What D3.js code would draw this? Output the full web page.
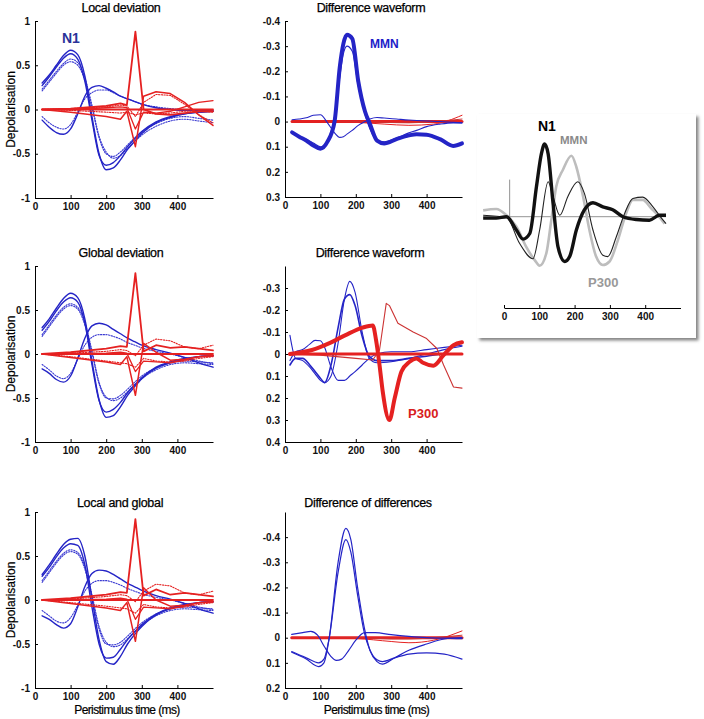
<!DOCTYPE html>
<html><head><meta charset="utf-8">
<script src="https://cdn.jsdelivr.net/npm/d3@7"></script>
<style>
body{margin:0;background:#fff}
text{font-family:Arial,"Liberation Sans",sans-serif}
</style>
</head><body>
<svg id="c" width="704" height="719"></svg>
<script>
// ---------------- DATA ----------------
const xTicks = [0, 100, 200, 300, 400];
const depolTicks = [1, 0.5, 0, -0.5, -1];
const diff1Ticks = [-0.4, -0.3, -0.2, -0.1, 0, 0.1, 0.2, 0.3];
const diff2Ticks = [-0.3, -0.2, -0.1, 0, 0.1, 0.2, 0.3, 0.4];
const diff3Ticks = [-0.4, -0.3, -0.2, -0.1, 0, 0.1, 0.2];
const titles = ["Local deviation", "Difference waveform", "Global deviation", "Difference waveform", "Local and global", "Difference of differences"];

// shared time grids (ms)
const tBlue = [20,40,60,80,100,120,140,160,180,200,220,240,260,280,300,340,380,420,460,500];
const tRed  = [20,100,200,240,258,282,305,340,380,420,460,500];

// Local deviation
const loc_b1 = [0.30,0.39,0.50,0.61,0.67,0.62,0.38,-0.08,-0.50,-0.68,-0.66,-0.57,-0.45,-0.36,-0.27,-0.15,-0.09,-0.05,-0.03,-0.02];
const loc_b2 = [0.27,0.37,0.48,0.58,0.63,0.57,0.32,-0.12,-0.52,-0.63,-0.60,-0.52,-0.42,-0.33,-0.25,-0.14,-0.08,-0.05,-0.03,-0.02];
const loc_b3 = [0.23,0.33,0.43,0.52,0.57,0.53,0.36,0.05,-0.30,-0.48,-0.55,-0.52,-0.44,-0.36,-0.29,-0.19,-0.13,-0.11,-0.13,-0.15];
const loc_b4 = [0.21,0.31,0.41,0.50,0.54,0.50,0.33,0.02,-0.32,-0.50,-0.53,-0.48,-0.40,-0.32,-0.25,-0.16,-0.10,-0.08,-0.10,-0.12];
const loc_b5 = [-0.12,-0.20,-0.26,-0.28,-0.22,-0.05,0.15,0.25,0.27,0.24,0.20,0.15,0.12,0.09,0.06,0.02,0.00,-0.01,-0.01,-0.02];
const loc_b6 = [-0.08,-0.15,-0.20,-0.22,-0.17,-0.03,0.12,0.19,0.22,0.22,0.19,0.15,0.12,0.09,0.06,0.03,0.01,0.00,-0.01,-0.01];
const loc_r0 = [0,0,0,0,0,0,0,0,0,0,0,0];
const loc_r1 = [0,0.01,0.04,0.07,0.05,0.88,0.00,-0.05,-0.06,-0.04,-0.02,-0.02];
const loc_r2 = [0,-0.03,-0.08,-0.11,-0.02,-0.42,0.15,0.20,0.18,0.08,-0.06,-0.18];
const loc_r3 = [0,0.00,0.02,0.03,0.02,-0.22,-0.03,-0.04,-0.02,0.03,0.08,0.10];
const loc_r4 = [0,0.01,0.03,0.05,0.04,-0.08,0.08,0.17,0.16,0.06,-0.06,-0.15];
const loc_r5 = [0,-0.01,-0.03,-0.04,-0.03,-0.06,-0.04,-0.05,-0.04,-0.02,-0.02,-0.03];

// Global deviation
const glb_b1 = [0.30,0.40,0.52,0.63,0.69,0.64,0.40,-0.08,-0.52,-0.72,-0.70,-0.60,-0.47,-0.37,-0.28,-0.16,-0.10,-0.06,-0.03,-0.02];
const glb_b2 = [0.27,0.37,0.49,0.59,0.64,0.59,0.35,-0.12,-0.53,-0.66,-0.63,-0.55,-0.44,-0.35,-0.27,-0.15,-0.09,-0.05,-0.03,-0.02];
const glb_b3 = [0.22,0.33,0.44,0.53,0.57,0.53,0.36,0.04,-0.32,-0.49,-0.53,-0.50,-0.43,-0.35,-0.28,-0.18,-0.12,-0.10,-0.11,-0.12];
const glb_b4 = [0.20,0.31,0.42,0.51,0.55,0.51,0.33,0.01,-0.34,-0.50,-0.51,-0.47,-0.40,-0.32,-0.25,-0.16,-0.10,-0.08,-0.09,-0.10];
const glb_b5 = [-0.17,-0.22,-0.29,-0.32,-0.25,-0.05,0.18,0.32,0.35,0.33,0.28,0.23,0.18,0.14,0.10,0.05,0.01,-0.04,-0.10,-0.15];
const glb_b6 = [-0.12,-0.18,-0.25,-0.28,-0.22,-0.06,0.10,0.19,0.22,0.22,0.20,0.17,0.13,0.10,0.07,0.03,0.00,-0.04,-0.08,-0.11];
const glb_r0 = [0,0,0,0,0,0,0,0,0,0,0,0];
const glb_r1 = [0,0.02,0.06,0.09,0.08,0.92,0.03,0.10,0.07,0.08,0.06,0.04];
const glb_r2 = [0,-0.04,-0.09,-0.12,-0.03,-0.47,0.12,0.02,-0.07,-0.06,-0.03,-0.02];
const glb_r3 = [0,0.00,0.01,0.02,0.01,-0.20,-0.08,-0.09,-0.10,-0.07,-0.03,-0.02];
const glb_r4 = [0,0.01,0.03,0.05,0.04,-0.02,0.10,0.17,0.15,0.08,0.06,0.10];
const glb_r5 = [0,-0.03,-0.08,-0.10,-0.11,-0.15,-0.05,-0.08,-0.09,-0.08,-0.05,-0.03];

// Local and global
const lg_b1 = [0.29,0.40,0.52,0.63,0.69,0.70,0.50,0.02,-0.45,-0.70,-0.73,-0.64,-0.50,-0.39,-0.30,-0.17,-0.10,-0.06,-0.03,-0.02];
const lg_b2 = [0.27,0.37,0.49,0.59,0.64,0.62,0.40,-0.08,-0.50,-0.66,-0.65,-0.56,-0.45,-0.36,-0.28,-0.16,-0.09,-0.05,-0.03,-0.02];
const lg_b3 = [0.22,0.33,0.44,0.53,0.57,0.54,0.38,0.06,-0.30,-0.48,-0.53,-0.51,-0.44,-0.36,-0.29,-0.18,-0.12,-0.10,-0.11,-0.12];
const lg_b4 = [0.20,0.31,0.42,0.51,0.55,0.52,0.35,0.03,-0.33,-0.50,-0.51,-0.48,-0.41,-0.33,-0.26,-0.16,-0.10,-0.08,-0.09,-0.10];
const lg_b5 = [-0.18,-0.22,-0.28,-0.32,-0.27,-0.08,0.15,0.30,0.34,0.33,0.29,0.24,0.19,0.15,0.11,0.05,0.01,-0.04,-0.10,-0.15];
const lg_b6 = [-0.12,-0.18,-0.24,-0.26,-0.20,-0.06,0.10,0.19,0.22,0.22,0.20,0.17,0.13,0.10,0.07,0.03,0.00,-0.04,-0.08,-0.11];
const lg_r0 = [0,0,0,0,0,0,0,0,0,0,0,0];
const lg_r1 = [0,0.02,0.06,0.09,0.08,0.92,0.05,0.12,0.06,0.08,0.06,0.04];
const lg_r2 = [0,-0.04,-0.09,-0.12,-0.03,-0.47,0.14,0.00,-0.07,-0.06,-0.03,-0.02];
const lg_r3 = [0,0.00,0.01,0.02,0.01,-0.22,-0.08,-0.09,-0.10,-0.07,-0.03,-0.02];
const lg_r4 = [0,0.01,0.04,0.06,0.05,-0.02,0.10,0.18,0.16,0.08,0.06,0.10];
const lg_r5 = [0,-0.03,-0.07,-0.09,-0.10,-0.15,-0.05,-0.08,-0.09,-0.08,-0.05,-0.03];

// Difference waveform (top, MMN)
const tD1 = [20,40,60,80,100,120,140,155,165,175,190,207,226,240,260,280,315,350,372,400,438,475,500];
const d1_mmn = [0.043,0.06,0.075,0.095,0.108,0.08,0.0,-0.22,-0.31,-0.345,-0.33,-0.16,-0.04,0.01,0.076,0.087,0.07,0.055,0.05,0.052,0.07,0.097,0.087];
const d1_b2  = [0.045,0.06,0.07,0.085,0.10,0.075,-0.02,-0.18,-0.27,-0.30,-0.28,-0.14,-0.03,0.03,0.075,0.08,0.065,0.045,0.035,0.02,0.01,0.005,0.005];
const d1_b3  = [-0.007,-0.01,-0.015,-0.025,-0.027,0.005,0.045,0.063,0.06,0.05,0.035,0.015,0.0,-0.01,-0.016,-0.014,-0.01,-0.006,-0.004,-0.002,0.0,0.003,0.005];
const tD1r = [20,100,200,280,350,420,500];
const d1_r0 = [0,0,0,0,0,0,0];
const d1_r1 = [0,0,0.003,0.01,0.015,0.01,-0.025];
const d1_r2 = [0,0,0,0.003,0.005,0.0,-0.01];

// Difference waveform (middle, P300)
const tD2 = [14,30,50,70,85,100,112,130,150,168,183,198,218,238,260,300,350,400,450,500];
const d2_bA = [-0.085,0.02,0.03,0.06,0.09,0.12,0.13,0.10,-0.05,-0.25,-0.33,-0.28,-0.10,0.02,0.04,0.035,0.02,0.0,-0.02,-0.035];
const d2_bB = [0.05,0.02,0.02,0.05,0.08,0.11,0.13,0.05,-0.12,-0.25,-0.27,-0.22,-0.08,0.01,0.03,0.03,0.02,0.01,0.0,0.0];
const d2_bC = [0.03,-0.01,-0.02,-0.045,-0.062,-0.06,-0.03,0.06,0.12,0.12,0.10,0.08,0.05,0.02,0.0,-0.01,-0.01,-0.02,-0.03,-0.04];
const tP300 = [14,76,124,171,219,248,257,267,276,295,310,329,352,371,390,419,448,476,500];
const d2_p300 = [0,-0.018,-0.048,-0.086,-0.12,-0.13,-0.065,0.05,0.17,0.30,0.20,0.08,0.035,0.02,0.04,0.053,0.005,-0.04,-0.053];
const tD2r = [14,100,200,248,267,286,295,319,362,400,429,448,476,500];
const d2_rthin = [0,0.005,0.02,0.027,-0.018,-0.23,-0.22,-0.14,-0.10,-0.07,-0.025,0.05,0.15,0.155];
const tD2z = [14,500];
const d2_r0 = [0,0];

// Difference of differences
const tD3 = [19,60,95,110,125,150,172,186,205,224,240,260,275,310,350,400,450,500];
const dd_b1 = [0.058,0.085,0.115,0.10,0.0,-0.30,-0.435,-0.39,-0.20,-0.04,0.05,0.095,0.105,0.08,0.05,0.025,0.005,0.0];
const dd_b2 = [0.055,0.08,0.10,0.085,0.0,-0.26,-0.39,-0.34,-0.17,-0.02,0.05,0.088,0.095,0.08,0.065,0.06,0.065,0.085];
const tD3c = [19,50,73,92,111,130,145,160,180,200,225,255,300,350,400,450,500];
const dd_b3 = [-0.013,-0.02,-0.025,-0.01,0.035,0.075,0.09,0.085,0.05,0.01,-0.02,-0.02,-0.012,-0.005,0.0,0.002,0.004];
const tD3r = [19,100,200,300,350,420,500];
const dd_r0 = [0,0,0,0,0,0,0];
const dd_r1 = [0,0,0.003,0.015,0.02,0.01,-0.027];
const dd_r2 = [0,0,0,0.005,0.005,0.0,-0.01];

// Inset (scalp ERP)
const insetTicks = [0, 100, 200, 300, 400];
const inN1_t = [-59,-22,7,35,54,73,92,106,115,125,139,153,172,186,205,228,252,280,308,337,375,412,440,459];
const inN1_v = [-0.02,-0.02,0,-0.19,-0.32,-0.24,0.43,0.90,1.04,0.90,0.19,-0.43,-0.64,-0.57,-0.19,0.10,0.20,0.14,0.10,0,-0.04,-0.05,0.02,0.02];
const inThin_t = [-59,7,44,82,101,125,139,158,181,209,228,252,280,294,318,342,365,393,422,440,459];
const inThin_v = [0.02,-0.01,-0.38,-0.60,-0.19,0.50,0.29,0.02,0.29,0.50,0.33,-0.19,-0.55,-0.57,-0.29,0.05,0.26,0.28,0.14,0.02,-0.10];
const inGray_t = [-59,-22,7,35,63,87,101,120,134,148,167,191,205,224,242,261,280,299,323,346,365,393,417,436,455];
const inGray_v = [0.09,0.11,0.02,-0.14,-0.43,-0.62,-0.70,-0.52,-0.05,0.43,0.67,0.87,0.71,0.29,-0.19,-0.57,-0.69,-0.64,-0.33,0.05,0.24,0.24,0.12,0.02,-0.10];
const inBase_t = [-59, 459];
const inBase_v = [0, 0];
const inOnset_t = [16, 16];
const inOnset_v = [0, 0.53];

// ---------------- DRAW ----------------
const svg = d3.select("#c");
const BLUE = "#2424c6", BLUED = "#3b3bd2", RED = "#e52121", REDD = "#cc3333";
const zip = (t, v) => t.map((d, i) => [d, v[i]]);

function drawPanel(o) {
  const g = svg.append("g");
  const x = d3.scaleLinear().domain([0, 500]).range([o.x0, o.x1]);
  const y = d3.scaleLinear().domain(o.yDom).range([o.yTop, o.yBot]);
  const line = c => d3.line().x(d => x(d[0])).y(d => y(d[1])).curve(c);
  o.series.forEach(s => {
    g.append("path").datum(zip(s.t, s.v))
      .attr("d", line(s.curve || d3.curveMonotoneX))
      .attr("fill", "none").attr("stroke", s.c).attr("stroke-width", s.w || 1.2)
      .attr("stroke-dasharray", s.dash || null)
      .attr("stroke-linejoin", "round").attr("stroke-linecap", "round");
  });
  const ax = g.append("g").attr("transform", `translate(0,${o.yBot})`)
    .call(d3.axisBottom(x).tickValues(xTicks).tickSizeInner(-3).tickSizeOuter(0).tickPadding(5).tickFormat(d => String(d)));
  const ay = g.append("g").attr("transform", `translate(${o.x0},0)`)
    .call(d3.axisLeft(y).tickValues(o.yTicks).tickSizeInner(-3).tickSizeOuter(0).tickPadding(5).tickFormat(d => String(d)));
  [ax, ay].forEach(a => {
    a.selectAll("text").attr("font-size", 10).attr("font-weight", "bold").attr("fill", "#111")
      .attr("font-family", "Arial, 'Liberation Sans', sans-serif");
    a.selectAll("line,path").attr("stroke", "#000").attr("stroke-width", 1);
  });
  g.append("text").attr("x", o.tx).attr("y", o.ty).attr("text-anchor", "middle")
    .attr("font-size", 12.5).attr("letter-spacing", -0.3).attr("fill", "#000")
    .attr("stroke", "#000").attr("stroke-width", 0.25).text(o.title);
  if (o.ylabel) {
    g.append("text").attr("transform", `translate(15,${(o.yTop + o.yBot) / 2}) rotate(-90)`)
      .attr("text-anchor", "middle").attr("font-size", 12).attr("fill", "#000")
      .attr("stroke", "#000").attr("stroke-width", 0.2).text("Depolarisation");
  }
  if (o.xlabel) {
    g.append("text").attr("x", (o.x0 + o.x1) / 2 + 3).attr("y", 714).attr("text-anchor", "middle")
      .attr("font-size", 12).attr("letter-spacing", -0.6).attr("fill", "#000")
      .attr("stroke", "#000").attr("stroke-width", 0.2).text("Peristimulus time (ms)");
  }
  return g;
}

function depolSeries(b1, b2, b3, b4, b5, b6, r0, r1, r2, r3, r4, r5) {
  const dot = "1.3 1.4";
  return [
    {t: tBlue, v: b3, c: BLUED, w: 1.1, dash: dot},
    {t: tBlue, v: b4, c: BLUED, w: 1.1, dash: dot},
    {t: tBlue, v: b6, c: BLUED, w: 1.1, dash: dot},
    {t: tBlue, v: b1, c: BLUE, w: 1.4},
    {t: tBlue, v: b2, c: BLUE, w: 1.4},
    {t: tBlue, v: b5, c: BLUE, w: 1.4},
    {t: tRed, v: r4, c: RED, w: 1.1, dash: dot, curve: d3.curveLinear},
    {t: tRed, v: r5, c: RED, w: 1.1, dash: dot, curve: d3.curveLinear},
    {t: tRed, v: r0, c: RED, w: 1.8, curve: d3.curveLinear},
    {t: tRed, v: r3, c: RED, w: 1.3, curve: d3.curveLinear},
    {t: tRed, v: r2, c: RED, w: 1.5, curve: d3.curveLinear},
    {t: tRed, v: r1, c: RED, w: 1.8, curve: d3.curveLinear}
  ];
}

// Panel 1: Local deviation
drawPanel({x0: 35, x1: 213, yTop: 21, yBot: 198, yDom: [1, -1], yTicks: depolTicks,
  title: titles[0], tx: 121, ty: 12, ylabel: true,
  series: depolSeries(loc_b1, loc_b2, loc_b3, loc_b4, loc_b5, loc_b6, loc_r0, loc_r1, loc_r2, loc_r3, loc_r4, loc_r5)});
// Panel 2: Difference waveform (MMN)
drawPanel({x0: 285, x1: 462, yTop: 21, yBot: 197, yDom: [-0.4, 0.3], yTicks: diff1Ticks,
  title: titles[1], tx: 371, ty: 12,
  series: [
    {t: tD1r, v: d1_r0, c: RED, w: 3, curve: d3.curveLinear},
    {t: tD1r, v: d1_r2, c: REDD, w: 1},
    {t: tD1r, v: d1_r1, c: RED, w: 1},
    {t: tD1, v: d1_b3, c: BLUE, w: 1.1},
    {t: tD1, v: d1_b2, c: BLUE, w: 1.1},
    {t: tD1, v: d1_mmn, c: BLUE, w: 4}
  ]});
// Panel 3: Global deviation
drawPanel({x0: 35, x1: 213, yTop: 266, yBot: 442, yDom: [1, -1], yTicks: depolTicks,
  title: titles[2], tx: 121, ty: 257, ylabel: true,
  series: depolSeries(glb_b1, glb_b2, glb_b3, glb_b4, glb_b5, glb_b6, glb_r0, glb_r1, glb_r2, glb_r3, glb_r4, glb_r5)});
// Panel 4: Difference waveform (P300)
drawPanel({x0: 285, x1: 462, yTop: 266, yBot: 442, yDom: [-0.4, 0.4], yTicks: diff2Ticks,
  title: titles[3], tx: 370, ty: 257,
  series: [
    {t: tD2, v: d2_bC, c: BLUE, w: 1.1},
    {t: tD2, v: d2_bA, c: BLUE, w: 1.1},
    {t: tD2, v: d2_bB, c: BLUE, w: 1.6},
    {t: tD2r, v: d2_rthin, c: REDD, w: 1.1, curve: d3.curveLinear},
    {t: tD2z, v: d2_r0, c: RED, w: 3, curve: d3.curveLinear},
    {t: tP300, v: d2_p300, c: RED, w: 4}
  ]});
// Panel 5: Local and global
drawPanel({x0: 35, x1: 213, yTop: 512, yBot: 688, yDom: [1, -1], yTicks: depolTicks,
  title: titles[4], tx: 120, ty: 507, ylabel: true, xlabel: true,
  series: depolSeries(lg_b1, lg_b2, lg_b3, lg_b4, lg_b5, lg_b6, lg_r0, lg_r1, lg_r2, lg_r3, lg_r4, lg_r5)});
// Panel 6: Difference of differences
drawPanel({x0: 285, x1: 462, yTop: 512, yBot: 688, yDom: [-0.5, 0.2], yTicks: diff3Ticks,
  title: titles[5], tx: 368, ty: 507, xlabel: true,
  series: [
    {t: tD3r, v: dd_r0, c: RED, w: 3, curve: d3.curveLinear},
    {t: tD3r, v: dd_r2, c: REDD, w: 1},
    {t: tD3r, v: dd_r1, c: RED, w: 1},
    {t: tD3c, v: dd_b3, c: BLUE, w: 1.2},
    {t: tD3, v: dd_b1, c: BLUE, w: 1.2},
    {t: tD3, v: dd_b2, c: BLUE, w: 1.2}
  ]});

// Panel labels
svg.append("text").attr("x", 62).attr("y", 43).attr("font-size", 14).attr("font-weight", "bold").attr("fill", "#2a3399").text("N1");
svg.append("text").attr("x", 370).attr("y", 48).attr("font-size", 12).attr("font-weight", "bold").attr("fill", "#1c1cc8").text("MMN");
svg.append("text").attr("x", 408).attr("y", 418).attr("font-size", 13).attr("font-weight", "bold").attr("fill", "#d82020").text("P300");

// ---------------- INSET ----------------
const defs = svg.append("defs");
const f = defs.append("filter").attr("id", "sh").attr("x", "-5%").attr("y", "-5%").attr("width", "115%").attr("height", "115%");
f.append("feDropShadow").attr("dx", 2.5).attr("dy", 2.5).attr("stdDeviation", 1.6).attr("flood-color", "#777").attr("flood-opacity", 0.9);
svg.append("rect").attr("x", 477).attr("y", 114).attr("width", 219).attr("height", 224)
  .attr("fill", "#fff").attr("filter", "url(#sh)");

const xi = d3.scaleLinear().domain([0, 500]).range([504, 680.5]);
const yi = d3.scaleLinear().domain([-1, 1]).range([286.7, 146.7]);
const il = d3.line().x(d => xi(d[0])).y(d => yi(d[1]));
const ig = svg.append("g");
ig.append("path").datum(zip(inBase_t, inBase_v)).attr("d", il).attr("stroke", "#777").attr("stroke-width", 0.8).attr("fill", "none");
ig.append("path").datum(zip(inOnset_t, inOnset_v)).attr("d", il).attr("stroke", "#777").attr("stroke-width", 0.8).attr("fill", "none");
ig.append("path").datum(zip(inGray_t, inGray_v)).attr("d", il.curve(d3.curveMonotoneX)).attr("stroke", "#bdbdbd").attr("stroke-width", 2.6).attr("fill", "none");
ig.append("path").datum(zip(inThin_t, inThin_v)).attr("d", il.curve(d3.curveMonotoneX)).attr("stroke", "#222").attr("stroke-width", 1.1).attr("fill", "none");
ig.append("path").datum(zip(inN1_t, inN1_v)).attr("d", il.curve(d3.curveMonotoneX)).attr("stroke", "#111").attr("stroke-width", 3.4).attr("fill", "none");
const iax = ig.append("g").attr("transform", "translate(0,308)")
  .call(d3.axisBottom(xi).tickValues(insetTicks).tickSizeInner(-3).tickSizeOuter(0).tickPadding(5).tickFormat(d => String(d)));
iax.selectAll("text").attr("font-size", 10).attr("font-weight", "bold").attr("fill", "#111");
iax.selectAll("line,path").attr("stroke", "#000");
svg.append("text").attr("x", 538).attr("y", 131).attr("font-size", 14).attr("font-weight", "bold").attr("fill", "#000").text("N1");
svg.append("text").attr("x", 560).attr("y", 144).attr("font-size", 11.5).attr("font-weight", "bold").attr("fill", "#8a8a8a").text("MMN");
svg.append("text").attr("x", 588).attr("y", 287).attr("font-size", 13).attr("font-weight", "bold").attr("fill", "#999").text("P300");
</script>
</body></html>
